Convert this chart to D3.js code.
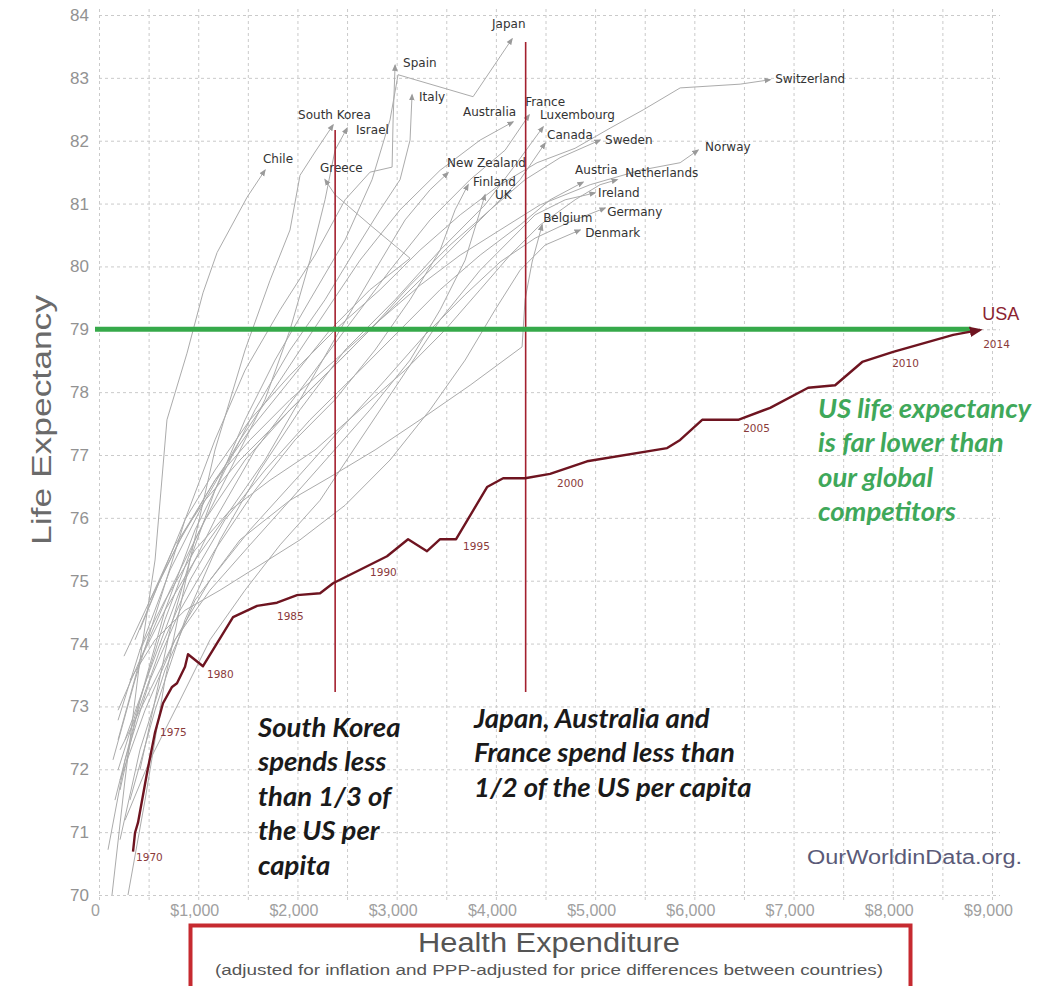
<!DOCTYPE html>
<html><head><meta charset="utf-8">
<script src="https://cdn.jsdelivr.net/npm/d3@7"></script>
<style>html,body{margin:0;padding:0;background:#fff}svg{display:block}</style>
</head><body>
<svg id="chart" width="1038" height="986"></svg>
<script>
// ---------- DATA ----------
const yTicks = [70,71,72,73,74,75,76,77,78,79,80,81,82,83,84];
const xTickValues = [0,1000,2000,3000,4000,5000,6000,7000,8000,9000];
const xTickLabels = ["0","$1,000","$2,000","$3,000","$4,000","$5,000","$6,000","$7,000","$8,000","$9,000"];
const xGridValues = d3.range(0, 9001, 500);

// USA (health expenditure per capita, life expectancy), 1970 -> 2014
const usaSpend = [343,363,393,484,565,645,736,786,867,897,1048,1351,1593,1794,1996,2228,2359,2903,3115,3306,3438,3599,3911,4073,4294,4546,4919,5726,5857,6079,6442,6764,7147,7419,7692,8004,8609,8881];
const usaLife  = [70.69,70.99,71.15,71.94,72.59,73.05,73.31,73.37,73.63,73.83,73.64,74.42,74.60,74.65,74.77,74.80,74.96,75.39,75.66,75.47,75.66,75.66,76.49,76.63,76.63,76.70,76.90,77.11,77.24,77.56,77.56,77.75,78.07,78.11,78.48,78.64,78.91,78.99];
const usaYearLabels = ["1970","1975","1980","1985","1990","1995","2000","2005","2010","2014"];
const usaYearPointIndex = [0,4,10,13,17,21,25,30,35,37];

// other countries: [spend, life expectancy]
const chile = [[131,70.0],[262,71.83],[413,73.74],[565,75.33],[685,77.56],[887,78.62],[1048,79.58],[1190,80.22],[1492,81.10],[1673,81.53]];
const southKorea = [[292,70.0],[464,71.51],[665,73.42],[917,75.33],[1169,77.08],[1472,78.67],[1724,79.78],[1925,80.58],[2026,81.45],[2177,81.82],[2359,82.25]];
const israel = [[192,71.99],[413,73.10],[665,74.38],[968,75.65],[1321,76.76],[1673,77.88],[1925,78.99],[2127,80.10],[2278,81.06],[2379,81.85],[2500,82.20]];
const greece = [[252,73.80],[514,74.69],[817,75.65],[1169,76.60],[1522,77.40],[1925,78.19],[2329,78.99],[2732,79.63],[3135,80.13],[2732,80.66],[2379,81.14],[2278,81.38]];
const spain = [[141,72.15],[363,73.42],[615,74.69],[867,75.97],[1169,77.24],[1472,78.35],[1825,79.31],[2177,80.18],[2480,81.06],[2732,81.50],[2954,81.58],[2964,82.33],[2984,83.20]];
const italy = [[212,71.67],[413,73.10],[665,74.53],[968,75.81],[1270,76.76],[1573,77.72],[1925,78.67],[2278,79.47],[2581,80.26],[2833,80.90],[3034,81.38],[3135,82.01],[3155,82.73]];
const japan = [[413,71.99],[565,73.10],[716,74.22],[917,75.33],[1169,76.44],[1472,77.56],[1774,78.51],[2127,79.47],[2480,80.42],[2752,81.38],[2933,82.33],[3014,83.05],[3770,82.70],[4163,83.62]];
const australia = [[192,72.78],[413,73.90],[716,75.17],[1069,76.28],[1421,77.24],[1825,78.19],[2228,79.15],[2631,80.10],[3034,80.90],[3438,81.53],[3841,82.01],[4173,82.30]];
const france = [[262,72.47],[514,73.58],[817,74.85],[1169,75.97],[1573,77.08],[2026,78.03],[2480,78.99],[2933,79.94],[3337,80.74],[3740,81.38],[4093,81.85],[4335,82.41]];
const luxembourg = [[312,71.51],[565,72.94],[867,74.38],[1220,75.65],[1623,76.76],[2026,77.72],[2480,78.67],[2984,79.47],[3438,80.26],[3891,80.98],[4194,81.61],[4476,82.22]];
const canada = [[192,72.47],[413,73.74],[716,74.85],[1069,75.97],[1472,76.92],[1925,77.72],[2429,78.51],[2933,79.31],[3387,80.02],[3841,80.74],[4244,81.38],[4496,81.96]];
const sweden = [[514,74.69],[766,75.57],[1069,76.28],[1421,76.92],[1825,77.56],[2278,78.27],[2732,78.99],[3135,79.70],[3538,80.34],[3942,80.90],[4294,81.38],[4647,81.73],[5050,82.01]];
const switzerland = [[363,74.06],[615,75.01],[867,75.97],[1169,76.76],[1522,77.56],[1925,78.27],[2379,78.99],[2833,79.63],[3236,80.26],[3640,80.82],[4042,81.30],[4415,81.65],[4798,81.88],[5151,82.20],[5484,82.49],[5857,82.84],[6462,82.90],[6764,82.97]];
const norway = [[413,74.22],[615,75.01],[867,75.81],[1169,76.60],[1522,77.24],[1925,77.88],[2379,78.51],[2833,79.15],[3236,79.70],[3640,80.18],[4042,80.58],[4446,80.98],[4950,81.30],[5454,81.53],[5857,81.65],[6038,81.85]];
const newZealand = [[192,72.94],[413,73.74],[665,74.53],[968,75.33],[1321,76.12],[1673,76.92],[2026,77.88],[2429,78.99],[2782,79.94],[3085,80.74],[3337,81.22],[3518,81.49]];
const finland = [[91,70.72],[262,72.15],[514,73.42],[817,74.53],[1169,75.49],[1573,76.44],[1976,77.24],[2379,77.88],[2782,78.67],[3135,79.47],[3438,80.26],[3589,80.90],[3720,81.30]];
const uk = [[212,72.31],[464,73.10],[766,74.06],[1119,74.85],[1522,75.57],[1925,76.28],[2329,77.00],[2732,77.72],[3135,78.51],[3438,79.31],[3690,80.10],[3891,81.14]];
const austria = [[161,71.51],[363,72.78],[615,73.90],[917,75.01],[1270,75.97],[1673,76.76],[2127,77.56],[2581,78.27],[3034,78.99],[3438,79.63],[3841,80.18],[4244,80.66],[4546,81.06],[4879,81.34]];
const netherlands = [[413,73.90],[665,74.69],[968,75.49],[1321,76.12],[1724,76.60],[2177,77.08],[2631,77.72],[3085,78.35],[3488,78.99],[3841,79.63],[4143,80.18],[4446,80.66],[4798,81.06],[5050,81.30],[5222,81.38]];
const ireland = [[262,71.19],[514,72.15],[817,73.10],[1119,74.06],[1472,74.85],[1825,75.57],[2228,76.28],[2631,77.24],[3034,78.19],[3438,79.15],[3841,79.94],[4194,80.50],[4395,80.82],[4698,81.06],[5000,81.17]];
const germany = [[212,71.83],[464,72.94],[766,74.06],[1119,75.01],[1522,75.81],[1976,76.60],[2429,77.40],[2883,78.19],[3286,78.91],[3690,79.55],[4042,80.07],[4395,80.45],[4748,80.71],[5101,80.93]];
const belgium = [[212,70.88],[413,72.31],[665,73.58],[968,74.69],[1421,75.65],[1925,76.28],[2329,76.65],[2782,77.08],[3236,77.56],[3740,78.11],[4264,78.72],[4294,79.47],[4365,80.07],[4466,80.66]];
const denmark = [[312,73.42],[565,74.06],[867,74.53],[1220,74.85],[1623,75.25],[2026,75.65],[2480,76.20],[2933,76.92],[3337,77.72],[3690,78.51],[3992,79.31],[4244,79.94],[4496,80.34],[4849,80.58]];

const countryNames = ["Chile","South Korea","Israel","Greece","Spain","Italy","Japan","Australia","France","Luxembourg","Canada","Sweden","Switzerland","Norway","New Zealand","Finland","UK","Austria","Netherlands","Ireland","Germany","Belgium","Denmark"];
const countrySeries = [chile,southKorea,israel,greece,spain,italy,japan,australia,france,luxembourg,canada,sweden,switzerland,norway,newZealand,finland,uk,austria,netherlands,ireland,germany,belgium,denmark];

// reference marker lines: spending of South Korea / Japan
const refSpend = [2380, 4300];
const refTopLife = [82.17, 83.57];
const refBottomLife = [73.23, 73.23];
const benchmarkLife = 79;

// ---------- LAYOUT (label offsets in px) ----------
const labelOffsets = {
  "Chile":[-2,-11],"South Korea":[-35,-10],"Israel":[9,2],"Greece":[-5,-12],"Spain":[8,-2],
  "Italy":[7,2],"Japan":[-20,-15],"Australia":[-50,-10],"France":[-4,-13],"Luxembourg":[-3,-12],
  "Canada":[2,-8],"Sweden":[5,0],"Switzerland":[5,-1],"Norway":[7,-3],"New Zealand":[-1,-10],
  "Finland":[5,-3],"UK":[10,0],"Austria":[-8,-12],"Netherlands":[8,-7],"Ireland":[3,0],
  "Germany":[2,4],"Belgium":[1,-7],"Denmark":[5,3]
};
const yearLabelOffsets = [[3,6],[5,0],[4,8],[0,14],[-17,16],[7,7],[7,9],[5,9],[-1,11],[3,14]];

// ---------- DRAW ----------
const svg = d3.select("#chart");
const x = d3.scaleLinear().domain([0, 9000]).range([99, 992]);
const y = d3.scaleLinear().domain([70, 84]).range([895, 15]);

const defs = svg.append("defs");
function marker(id, color, size){
  defs.append("marker").attr("id", id).attr("viewBox","0 0 10 10")
    .attr("refX", 8).attr("refY", 5).attr("markerWidth", size).attr("markerHeight", size)
    .attr("markerUnits","userSpaceOnUse").attr("orient","auto")
    .append("path").attr("d","M0,1 L10,5 L0,9 Z").attr("fill", color);
}
marker("arrGray", "#9a9a9a", 7);
marker("arrUsa", "#6e1420", 13);

// grid
const gx = svg.append("g").attr("transform","translate(0,900)")
  .call(d3.axisBottom(x).tickValues(xGridValues).tickSize(-892).tickFormat(""));
const gy = svg.append("g").attr("transform","translate(99,0)")
  .call(d3.axisLeft(y).tickValues(yTicks).tickSize(-901).tickFormat(""));
[gx, gy].forEach(g => {
  g.select(".domain").remove();
  g.selectAll("line").attr("stroke","#cacaca").attr("stroke-width",1).attr("stroke-dasharray","3,3");
});

// axis labels
const ay = svg.append("g").attr("transform","translate(89,0)")
  .call(d3.axisLeft(y).tickValues(yTicks).tickSize(0).tickPadding(0).tickFormat(d3.format("d")));
ay.select(".domain").remove();
ay.selectAll("text").attr("font-family","Liberation Sans, Arial, sans-serif").attr("font-size",17).attr("fill","#929292");

const ax = svg.append("g").attr("transform","translate(-4,905)")
  .call(d3.axisBottom(x).tickValues(xTickValues).tickSize(0).tickPadding(0).tickFormat((d,i)=>xTickLabels[i]));
ax.select(".domain").remove();
ax.selectAll("text").attr("font-family","Liberation Sans, Arial, sans-serif").attr("font-size",16).attr("fill","#a0a0a0");

// country lines
const line = d3.line().x(d => x(d[0])).y(d => y(d[1]));
const countries = countryNames.map((n,i) => ({name:n, data:countrySeries[i]}));
svg.append("g").selectAll("path").data(countries).join("path")
  .attr("d", d => line(d.data)).attr("fill","none").attr("stroke","#ababab")
  .attr("stroke-width",1).attr("marker-end","url(#arrGray)");

// country labels
svg.append("g").selectAll("text").data(countries).join("text")
  .attr("x", d => x(d.data[d.data.length-1][0]) + labelOffsets[d.name][0])
  .attr("y", d => y(d.data[d.data.length-1][1]) + labelOffsets[d.name][1])
  .attr("dy","0.35em")
  .attr("font-family","DejaVu Sans, Verdana, sans-serif").attr("font-size",12)
  .attr("fill","#333").text(d => d.name);

// red reference lines
svg.append("g").selectAll("line").data(refSpend).join("line")
  .attr("x1", d => x(d)).attr("x2", d => x(d))
  .attr("y1", (d,i) => y(refTopLife[i])).attr("y2", (d,i) => y(refBottomLife[i]))
  .attr("stroke","#a3202e").attr("stroke-width",1.6);

// green benchmark line
svg.append("line").attr("x1", x.range()[0]-4).attr("x2", x(8790))
  .attr("y1", y(benchmarkLife)).attr("y2", y(benchmarkLife))
  .attr("stroke","#36a94a").attr("stroke-width",5);

// USA line
const usa = usaSpend.map((s,i) => [s, usaLife[i]]);
svg.append("path").attr("d", line(usa)).attr("fill","none").attr("stroke","#6e1420")
  .attr("stroke-width",2.4).attr("stroke-linejoin","round").attr("marker-end","url(#arrUsa)");

svg.append("g").selectAll("text").data(usaYearLabels).join("text")
  .attr("x", (d,i) => x(usa[usaYearPointIndex[i]][0]) + yearLabelOffsets[i][0])
  .attr("y", (d,i) => y(usa[usaYearPointIndex[i]][1]) + yearLabelOffsets[i][1])
  .attr("dy","0.35em").attr("font-family","DejaVu Sans, Verdana, sans-serif")
  .attr("font-size",10.5).attr("fill","#8a3a3a").text(d => d);

const usaLast = usa[usa.length-1];
svg.append("text").attr("x", x(usaLast[0]) + 2).attr("y", y(usaLast[1]) - 16).attr("dy","0.35em")
  .attr("font-family","Liberation Sans, Arial, sans-serif").attr("font-size",18)
  .attr("fill","#8b2331").text("USA");

// y axis title
svg.append("text").attr("transform","translate(51,420) rotate(-90)").attr("text-anchor","middle")
  .attr("font-family","Liberation Sans, Arial, sans-serif").attr("font-size",27).attr("fill","#6a6a6a")
  .attr("textLength",250).attr("lengthAdjust","spacingAndGlyphs").text("Life Expectancy");

// x axis title box
svg.append("rect").attr("x",190.5).attr("y",925.5).attr("width",720).attr("height",80)
  .attr("fill","none").attr("stroke","#c62a30").attr("stroke-width",4);
svg.append("text").attr("x",549).attr("y",952).attr("text-anchor","middle")
  .attr("font-family","Liberation Sans, Arial, sans-serif").attr("font-size",27).attr("fill","#555")
  .attr("textLength",262).attr("lengthAdjust","spacingAndGlyphs").text("Health Expenditure");
svg.append("text").attr("x",549).attr("y",975).attr("text-anchor","middle")
  .attr("font-family","Liberation Sans, Arial, sans-serif").attr("font-size",14).attr("fill","#555")
  .attr("textLength",668).attr("lengthAdjust","spacingAndGlyphs")
  .text("(adjusted for inflation and PPP-adjusted for price differences between countries)");

// source
svg.append("text").attr("x",807).attr("y",864)
  .attr("font-family","Liberation Sans, Arial, sans-serif").attr("font-size",20).attr("fill","#5a5a78")
  .attr("textLength",215).attr("lengthAdjust","spacingAndGlyphs").text("OurWorldinData.org.");

// annotations
function block(lines, x0, y0, color){
  const t = svg.append("text").attr("font-family","Lato, 'Open Sans', sans-serif")
    .attr("font-size",27.5).attr("font-weight","bold").attr("font-style","italic").attr("fill",color);
  lines.forEach((s,i) => t.append("tspan").attr("x",x0).attr("y",y0 + i*34.5).attr("dy","0.35em").text(s));
}
block(["South Korea","spends less","than 1/3 of","the US per","capita"], 258, 727, "#1a1a1a");
block(["Japan, Australia and","France spend less than","1/2 of the US per capita"], 474, 718, "#1a1a1a");
block(["US life expectancy","is far lower than","our global","competitors"], 818, 408, "#3fa85a");
</script>
</body></html>
